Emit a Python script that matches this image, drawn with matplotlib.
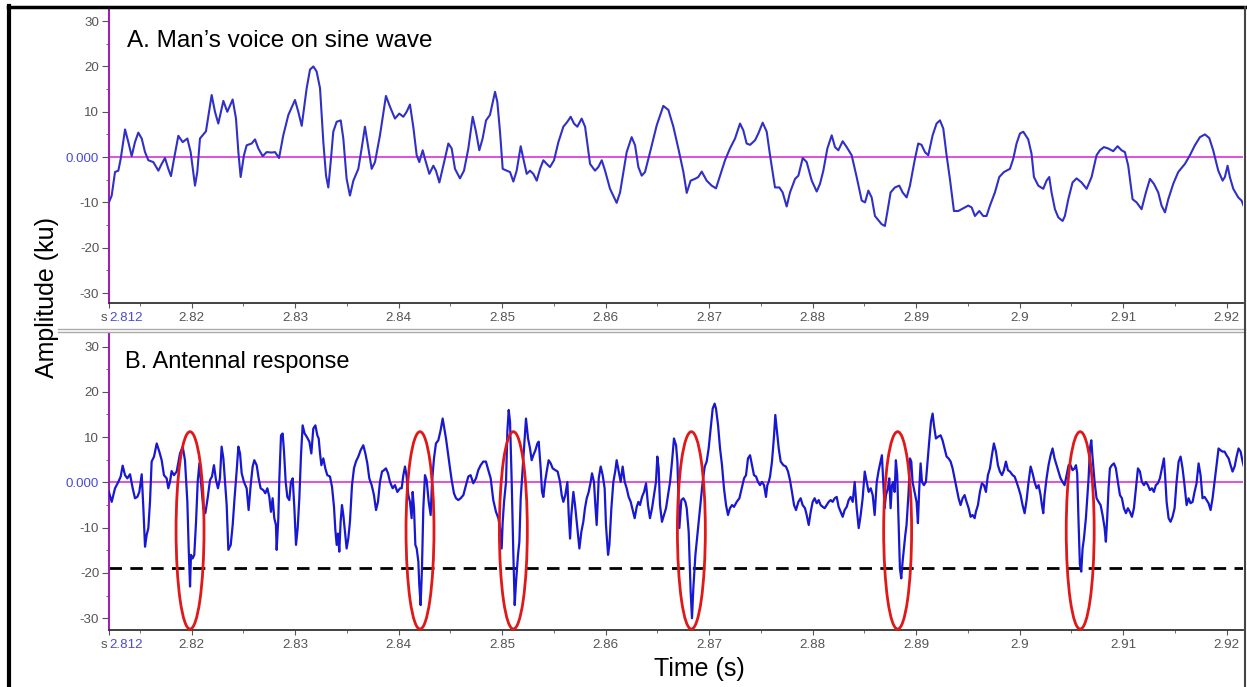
import numpy as np
import matplotlib
matplotlib.use("Agg")
import matplotlib.pyplot as plt
from matplotlib.patches import Ellipse
from matplotlib.lines import Line2D

plt.rcParams['font.family'] = ['Liberation Sans', 'DejaVu Sans']

# time offsets in ms after 2.812 s, amplitude in ku
t0 = 2.812

voice_ms = [0.00, 0.27, 0.59, 0.91, 1.14, 1.56, 1.88, 2.20, 2.52, 2.84, 3.17, 3.49, 3.81, 4.29,
            4.78, 5.10, 5.42, 5.74, 6.00, 6.29, 6.71, 7.13, 7.58, 7.90, 8.32, 8.54, 8.80, 9.38,
            9.93, 10.25, 10.57, 11.06, 11.44, 11.96, 12.28, 12.51, 12.73, 13.05, 13.31, 13.79,
            14.12, 14.44, 14.86, 15.24, 15.73, 16.05, 16.44, 16.85, 17.34, 17.98, 18.30, 18.63,
            19.11, 19.43, 19.75, 20.07, 20.40, 20.72, 20.98, 21.20, 21.43, 21.68, 22.01, 22.40,
            22.65, 22.97, 23.29, 23.62, 24.10, 24.42, 24.74, 25.07, 25.39, 25.71, 26.19, 26.77,
            27.16, 27.64, 28.06, 28.45, 28.77, 29.09, 29.41, 29.74, 29.99, 30.32, 30.54, 30.96,
            31.35, 31.60, 31.93, 32.31, 32.80, 33.12, 33.44, 33.92, 34.31, 34.73, 35.15, 35.47,
            35.79, 36.11, 36.44, 36.82, 37.31, 37.53, 37.79, 38.05, 38.44, 38.76, 39.08, 39.40,
            39.79, 40.05, 40.37, 40.69, 41.01, 41.34, 41.66, 41.98, 42.30, 42.62, 43.01, 43.43,
            43.91, 44.30, 44.62, 44.94, 45.26, 45.68, 46.01, 46.49, 46.97, 47.29, 47.62, 47.94,
            48.42, 49.06, 49.39, 50.03, 50.51, 50.84, 51.16, 51.48, 51.80, 52.29, 52.93, 53.57,
            54.06, 54.54, 55.02, 55.51, 55.83, 56.21, 56.63, 56.95, 57.28, 57.76, 58.24, 58.66,
            59.05, 59.53, 60.01, 60.50, 60.98, 61.30, 61.62, 61.95, 62.43, 62.75, 63.17, 63.56,
            63.88, 64.36, 64.78, 65.10, 65.49, 65.81, 66.30, 66.62, 67.04, 67.42, 67.91, 68.39,
            68.71, 69.03, 69.42, 69.84, 70.16, 70.48, 70.90, 71.29, 71.77, 72.25, 72.74, 73.06,
            73.38, 73.70, 74.02, 74.51, 74.66, 74.98, 75.21, 75.53, 75.95, 76.37, 76.69, 77.08,
            77.40, 77.88, 78.20, 78.52, 78.85, 79.17, 79.59, 79.97, 80.30, 80.62, 80.94, 81.26,
            81.65, 82.07, 82.55, 83.03, 83.36, 83.68, 84.10, 84.48, 84.80, 85.13, 85.61, 86.03,
            86.48, 87.06, 87.38, 87.70, 88.03, 88.35, 88.83, 89.15, 89.38, 89.80, 90.28, 90.60,
            90.86, 91.08, 91.41, 91.73, 92.15, 92.37, 92.70, 93.11, 93.50, 93.98, 94.47, 94.95,
            95.43, 95.75, 96.14, 96.56, 97.04, 97.46, 97.85, 98.17, 98.49, 98.91, 99.30, 99.78,
            100.20, 100.59, 100.97, 101.39, 101.71, 102.04, 102.36, 102.84, 103.32, 103.97,
            104.45, 104.93, 105.42, 105.90, 106.32, 106.70, 107.19, 107.61, 107.83, 108.09,
            108.31, 108.64, 109.12, 109.44, 109.76]
voice_ku = [-10.0, -8.5, -3.3, -3.0, -0.4, 6.1, 3.3, 0.2, 3.3, 5.4, 4.1, 1.1, -0.7, -1.1,
            -3.0, -1.5, -0.2, -2.6, -4.2, -0.4, 4.7, 3.3, 4.1, 1.1, -6.3, -3.3, 4.1, 5.7,
            13.7, 10.0, 7.4, 12.4, 10.0, 12.7, 8.5, 1.1, -4.4, 0.4, 2.6, 3.0,
            3.9, 1.9, 0.2, 1.1, 1.0, 1.1, -0.2, 4.8, 9.3, 12.6, 10.0, 6.9,
            15.2, 19.3, 20.0, 18.9, 15.2, 3.3, -4.1, -6.7, -1.1, 5.6, 7.8, 8.1,
            4.1, -4.8, -8.5, -5.2, -2.6, 1.9, 6.7, 1.9, -2.6, -1.1, 4.8, 13.5,
            11.1, 8.5, 9.6, 8.9, 10.0, 11.6, 6.7, 0.4, -1.1, 1.5, -0.4, -3.7,
            -1.9, -3.0, -5.6, -1.9, 3.0, 1.9, -2.6, -4.7, -3.0, 1.9, 8.9, 5.6,
            1.5, 4.1, 8.1, 9.3, 14.4, 12.2, 5.6, -2.6, -3.0, -3.3, -5.4, -3.0,
            2.4, -0.4, -3.7, -3.0, -3.7, -5.2, -2.6, -0.7, -1.5, -2.2, -0.7, 3.3,
            6.7, 7.8, 8.9, 7.4, 6.7, 8.5, 6.7, -1.5, -3.0, -2.2, -0.7, -3.0,
            -7.0, -10.1, -7.8, 1.1, 4.4, 2.6, -2.2, -4.1, -3.3, 1.1, 7.0, 11.3,
            10.4, 6.7, 1.9, -3.3, -7.9, -5.2, -4.8, -4.4, -3.2, -5.2, -6.3, -6.9,
            -4.1, -0.7, 1.9, 4.1, 7.4, 5.9, 3.0, 2.7, 3.7, 5.2, 7.6, 5.6,
            0.4, -6.7, -6.7, -7.8, -10.9, -7.8, -4.8, -4.1, -0.2, -1.1, -5.2, -7.6,
            -5.9, -3.0, 1.9, 4.8, 2.2, 1.5, 3.5, 2.2, 0.4, -4.4, -9.6, -10.0,
            -7.4, -8.9, -13.0, -14.4, -14.8, -15.2, -12.2, -7.8, -6.7, -6.3, -7.8, -8.9,
            -6.3, -0.4, 3.0, 2.7, 1.1, 0.4, 4.8, 7.4, 8.1, 6.3, 0.4, -4.8,
            -11.9, -11.9, -11.3, -10.7, -11.1, -13.0, -11.9, -13.0, -13.0, -10.7, -7.8, -4.4,
            -3.3, -2.6, -0.4, 3.0, 5.2, 5.6, 3.9, 0.7, -4.4, -6.3, -7.0, -5.2,
            -4.4, -7.8, -11.5, -13.3, -14.1, -13.0, -9.3, -5.6, -4.7, -5.6, -7.0, -4.4,
            0.4, 1.5, 2.2, 1.9, 1.3, 2.4, 1.5, 1.1, -1.9, -9.3, -10.0, -11.5,
            -7.8, -4.8, -5.9, -7.8, -10.7, -12.2, -9.3, -5.9, -3.3, -1.5,
            0.4, 2.6, 4.4, 5.0, 4.2, 1.5, -3.0, -5.2, -4.4, -1.9,
            -4.4, -7.0, -8.9, -9.6, -11.5]

response_ms = [0.00, 0.27, 0.59, 0.91, 1.14, 1.33, 1.56, 1.78, 2.04, 2.30, 2.52, 2.75, 2.94, 3.17,
               3.33, 3.49, 3.65, 3.81, 3.97, 4.13, 4.36, 4.62, 4.87, 5.10, 5.32, 5.58, 5.74, 5.90,
               6.06, 6.29, 6.55, 6.87, 7.13, 7.35, 7.58, 7.71, 7.84, 7.93, 8.09, 8.25, 8.42, 8.58,
               8.74, 8.90, 9.12, 9.32, 9.54, 9.77, 9.96, 10.15, 10.35, 10.54, 10.73, 10.89, 11.06,
               11.22, 11.38, 11.54, 11.77, 11.96, 12.15, 12.34, 12.51, 12.67, 12.83, 13.05, 13.31,
               13.50, 13.70, 13.89, 14.05, 14.28, 14.47, 14.66, 14.92, 15.11, 15.31, 15.50, 15.66,
               15.82, 15.98, 16.14, 16.21, 16.37, 16.47, 16.63, 16.79, 16.92, 17.08, 17.24, 17.43,
               17.59, 17.76, 17.92, 18.08, 18.24, 18.40, 18.56, 18.72, 18.91, 19.11, 19.37, 19.56,
               19.75, 19.95, 20.14, 20.27, 20.40, 20.53, 20.72, 20.91, 21.10, 21.36, 21.56, 21.75,
               21.88, 22.01, 22.14, 22.26, 22.39, 22.52, 22.65, 22.81, 22.97, 23.13, 23.29, 23.49,
               23.68, 23.87, 24.10, 24.32, 24.58, 24.78, 24.97, 25.16, 25.39, 25.61, 25.81, 26.00,
               26.19, 26.39, 26.58, 26.77, 26.97, 27.16, 27.42, 27.64, 27.87, 28.13, 28.29, 28.45,
               28.61, 28.77, 28.93, 29.09, 29.25, 29.35, 29.48, 29.61, 29.74, 29.90, 29.99, 30.12,
               30.25, 30.38, 30.54, 30.70, 30.90, 31.09, 31.22, 31.41, 31.60, 31.83, 32.05, 32.25,
               32.41, 32.57, 32.80, 32.96, 33.12, 33.34, 33.54, 33.76, 33.99, 34.25, 34.50, 34.73,
               34.95, 35.21, 35.47, 35.69, 35.92, 36.17, 36.43, 36.66, 36.89, 37.14, 37.40, 37.63,
               37.79, 37.95, 38.05, 38.18, 38.37, 38.50, 38.63, 38.76, 38.92, 39.08, 39.21, 39.34,
               39.53, 39.66, 39.79, 39.92, 40.11, 40.30, 40.50, 40.69, 40.85, 41.01, 41.21, 41.40,
               41.53, 41.72, 41.85, 41.98, 42.14, 42.30, 42.49, 42.69, 42.88, 43.14, 43.36, 43.59,
               43.75, 43.91, 44.10, 44.30, 44.43, 44.56, 44.68, 44.88, 45.04, 45.26, 45.46, 45.65,
               45.84, 46.00, 46.17, 46.36, 46.55, 46.68, 46.87, 47.00, 47.13, 47.33, 47.52, 47.71,
               47.90, 48.03, 48.23, 48.36, 48.55, 48.74, 48.94, 49.06, 49.26, 49.45, 49.64, 49.84,
               50.03, 50.22, 50.42, 50.61, 50.80, 51.00, 51.16, 51.32, 51.51, 51.71, 51.90, 52.09,
               52.28, 52.48, 52.67, 52.86, 52.99, 53.12, 53.25, 53.44, 53.64, 53.83, 54.02, 54.22,
               54.41, 54.60, 54.80, 54.93, 55.12, 55.31, 55.51, 55.70, 55.83, 56.02, 56.21, 56.34,
               56.47, 56.67, 56.86, 56.99, 57.18, 57.37, 57.57, 57.76, 57.95, 58.15, 58.34, 58.53,
               58.66, 58.86, 59.05, 59.24, 59.43, 59.63, 59.82, 60.01, 60.21, 60.40, 60.66, 60.92,
               61.14, 61.37, 61.56, 61.75, 61.95, 62.14, 62.33, 62.53, 62.72, 62.91, 63.11, 63.30,
               63.49, 63.62, 63.75, 63.88, 64.07, 64.27, 64.39, 64.52, 64.72, 64.91, 65.17, 65.42,
               65.62, 65.81, 66.00, 66.20, 66.39, 66.62, 66.84, 67.03, 67.26, 67.42, 67.62, 67.81,
               68.00, 68.19, 68.39, 68.58, 68.77, 68.97, 69.16, 69.35, 69.55, 69.74, 69.93, 70.13,
               70.32, 70.51, 70.71, 70.90, 71.09, 71.29, 71.48, 71.67, 71.87, 72.06, 72.25, 72.45,
               72.64, 72.83, 73.03, 73.22, 73.41, 73.61, 73.80, 73.99, 74.19, 74.38, 74.69, 74.82,
               74.95, 75.08, 75.27, 75.40, 75.53, 75.66, 75.79, 75.92, 76.04, 76.17, 76.30, 76.43,
               76.56, 76.69, 76.82, 76.95, 77.07, 77.27, 77.40, 77.53, 77.65, 77.85, 78.04, 78.17,
               78.30, 78.43, 78.56, 78.75, 78.94, 79.07, 79.26, 79.43, 79.59, 79.72, 79.91, 80.13,
               80.36, 80.55, 80.75, 80.94, 81.13, 81.33, 81.52, 81.71, 81.91, 82.10, 82.29, 82.49,
               82.68, 82.87, 83.07, 83.26, 83.45, 83.65, 83.77, 83.97, 84.16, 84.35, 84.55, 84.74,
               84.93, 85.13, 85.32, 85.51, 85.71, 85.90, 86.09, 86.29, 86.48, 86.67, 86.87, 87.06,
               87.32, 87.51, 87.70, 87.90, 88.09, 88.28, 88.48, 88.67, 88.86, 89.06, 89.25, 89.44,
               89.64, 89.83, 90.02, 90.15, 90.28, 90.41, 90.60, 90.79, 90.99, 91.18, 91.37, 91.57,
               91.76, 91.95, 92.15, 92.34, 92.53, 92.73, 92.92, 93.11, 93.31, 93.44, 93.56, 93.69,
               93.82, 93.95, 94.08, 94.21, 94.40, 94.53, 94.66, 94.79, 94.92, 95.05, 95.24, 95.43,
               95.63, 95.82, 96.01, 96.21, 96.33, 96.46, 96.59, 96.72, 96.91, 97.11, 97.30, 97.49,
               97.69, 97.88, 98.07, 98.27, 98.46, 98.65, 98.85, 99.04, 99.23, 99.43, 99.62, 99.81,
               100.01, 100.20, 100.39, 100.59, 100.78, 100.97, 101.16, 101.36, 101.55, 101.74,
               101.94, 102.07, 102.20, 102.39, 102.58, 102.77, 102.97, 103.16, 103.36, 103.55,
               103.74, 103.93, 104.13, 104.32, 104.51, 104.71, 104.90, 105.09, 105.29, 105.48,
               105.67, 105.87, 106.06, 106.25, 106.45, 106.64, 106.83, 107.03, 107.22, 107.41,
               107.61, 107.80, 107.99, 108.19, 108.38, 108.57, 108.77, 108.96, 109.15, 109.35,
               109.54, 109.76]
response_ku = [-2.1, -4.3, -1.3, 0.1, 1.3, 3.7, 1.6, 0.9, 1.8, -1.3, -3.5, -3.2, -2.1, 1.8,
               -5.7, -14.2, -11.6, -10.1, -4.3, 4.6, 5.7, 8.6, 6.8, 4.9, 1.6, 0.9, -1.3, 0.1,
               2.5, 1.6, 2.4, 6.4, 7.9, 4.9, -4.3, -14.6, -23.0, -16.0, -16.8, -16.0, -8.7, 0.1,
               4.2, 0.1, -5.7, -6.8, -3.5, 0.5, 1.3, 3.8, 0.5, -1.3, 0.9, 7.9, 5.3,
               0.1, -5.0, -14.9, -13.8, -9.4, -3.2, 2.4, 7.9, 6.4, 2.0, 0.1, -1.3,
               -6.1, -0.6, 3.5, 4.9, 3.8, 0.9, -1.3, -1.7, -2.4, -1.3, -3.2, -6.5,
               -3.5, -7.9, -9.4, -14.9, -7.9, 0.9, 10.4, 10.8, 6.8, 0.1, -3.2, -3.9,
               0.1, 0.9, -5.7, -13.8, -10.1, -3.5, 6.0, 12.6, 10.8, 10.1, 9.0, 6.4,
               11.9, 12.6, 10.4, 9.7, 6.4, 3.8, 5.3, 3.1, 1.6, 1.3, -1.0, -5.4,
               -10.5, -13.8, -11.3, -15.3, -8.7, -5.0, -7.2, -10.9, -14.6, -12.4, -8.7, -0.6,
               3.1, 4.6, 5.7, 7.1, 8.2, 6.4, 4.2, 0.9, -0.6, -2.8, -6.1, -4.3,
               0.1, 2.4, 2.7, 3.1, 2.0, 0.1, -1.3, -0.6, -2.1, -1.3, -1.3, 1.6,
               3.5, 1.3, -2.8, -4.3, -7.9, -2.1, -5.7, -13.8, -14.6, -17.5, -22.6, -27.1,
               -19.0, -5.7, 1.6, 0.5, -4.3, -7.2, 0.1, 5.3, 8.6, 9.3, 11.5, 14.1,
               11.9, 9.7, 5.7, 3.1, 0.5, -2.4, -3.5, -3.9, -3.5, -2.8, -0.6, 1.3,
               1.6, -0.2, 0.9, 2.7, 3.8, 4.6, 4.6, 2.7, 0.9, -3.9, -6.5, -7.9,
               -10.1, -14.6, -8.7, -4.3, 0.1, 11.2, 16.0, 13.4, 0.1, -16.0, -27.1, -21.9,
               -16.0, -13.1, -3.5, 0.9, 7.5, 14.1, 9.7, 7.5, 4.9, 6.0, 7.1, 8.6,
               9.0, 3.1, -2.1, -3.2, 0.1, 2.4, 4.9, 4.2, 3.1, 2.7, 2.4, 0.1,
               -2.8, -4.3, -2.8, 0.1, -7.2, -12.4, -7.2, -2.1, -5.0, -10.1, -14.6, -10.9,
               -8.7, -5.7, -3.5, -2.1, 0.1, 2.0, 0.1, -5.0, -9.4, 0.9, 3.5, 1.6,
               -1.3, -9.4, -16.0, -13.8, -5.7, 0.1, 2.7, 4.9, 2.4, 0.1, 3.5, 0.1,
               -1.3, -3.2, -4.3, -6.1, -7.9, -5.4, -4.3, -5.0, -3.2, -2.1, -0.2, -5.0,
               -7.9, -5.7, -2.8, 0.1, 5.7, 3.1, -5.0, -8.7, -7.2, -5.7, -2.8, 0.1,
               4.6, 9.7, 8.2, 4.6, -10.1, -3.9, -3.5, -4.3, -5.7, -10.9, -24.1, -30.0,
               -23.4, -16.0, -11.6, -8.7, -4.3, 0.1, 3.5, 4.6, 7.5, 11.9, 16.3, 17.4,
               16.3, 12.6, 7.5, 3.8, -1.3, -5.0, -7.2, -5.7, -5.0, -5.4, -4.3, -3.5,
               -1.3, 0.9, 1.6, 5.3, 6.0, 3.8, 1.6, 1.3, 0.1, -0.6, 0.1, -0.6,
               -3.2, -0.6, 0.1, 1.3, 4.6, 10.4, 14.9, 11.9, 7.5, 4.6, 3.8, 3.5,
               2.4, 0.5, -2.1, -5.0, -6.1, -4.3, -3.5, -5.0, -5.7, -7.2, -9.4, -6.5,
               -4.3, -3.5, -4.6, -3.9, -5.0, -5.4, -5.7, -5.0, -4.3, -3.9, -4.3, -3.5,
               -3.2, -5.4, -6.5, -7.6, -6.1, -5.4, -3.9, -3.2, -4.3, 0.1, -5.7, -10.1,
               -7.2, -3.5, 2.4, 0.1, -2.1, -1.3, -2.8, -7.2, 0.1, 2.7, 6.0, 0.1,
               -5.7, -2.8, -1.3, 0.9, -5.7, -0.6, 0.1, -2.1, 4.9, 1.6, -8.7, -19.0,
               -21.2, -17.5, -14.6, -11.6, -9.4, -2.1, 5.3, 4.6, 0.1, -2.1, -4.3, -9.0,
               -1.3, 4.2, 0.1, -0.6, 0.1, 3.8, 9.0, 13.4, 15.2, 12.6, 9.7, 10.1,
               10.4, 9.3, 7.5, 5.7, 5.3, 4.6, 3.1, 0.9, -1.3, -3.5, -5.0, -3.5,
               -2.8, -4.3, -5.7, -7.6, -7.2, -7.9, -6.5, -5.0, -2.1, -0.2, -0.6, -2.1,
               1.6, 3.1, 6.0, 8.6, 6.8, 3.8, 2.4, 1.6, 2.7, 4.6, 2.7, 2.4,
               1.6, 1.3, 0.1, -1.3, -2.8, -5.0, -6.8, -3.9, 0.1, 3.5, 2.0, 0.1,
               -1.3, -0.6, -2.8, -5.0, -6.8, -2.8, 0.9, 3.8, 6.0, 7.5, 5.3, 3.8,
               2.4, 0.9, 0.1, -0.6, 1.6, 3.8, 3.8, 2.7, 3.1, 3.8, 2.0, -8.7,
               -18.2, -19.7, -14.6, -12.4, -7.9, -3.5, 0.9, 7.5, 9.3, 5.3, 0.1, -3.5,
               -4.3, -5.0, -7.2, -10.1, -13.1, -7.9, -1.3, 3.1, 3.8, 4.2, 3.1, 0.1,
               -2.8, -3.5, -5.7, -6.8, -5.7, -6.5, -7.6, -5.7, -1.3, 3.1, 2.4, 0.1,
               -0.6, 0.1, -0.6, -1.7, -1.3, -2.1, -0.6, -0.2, 0.9, 3.1,
               5.3, 0.9, -4.3, -7.9, -8.7, -7.6, -5.7, 0.1, 4.6, 5.7,
               3.1, -0.6, -5.0, -3.5, -4.6, -4.3, -2.1, -0.2, 4.2, 1.6,
               -3.5, -3.2, -3.9, -4.6, -6.1, -3.5, 0.1, 3.8, 7.5, 7.1,
               6.8, 6.8, 6.0, 5.3, 3.8, 2.4, 3.5, 5.7, 7.5, 6.8,
               4.6, 2.7]

# circled spikes (ms after 2.812 s) and the threshold
spike_ms = [7.84, 30.06, 39.08, 56.28, 76.21, 93.85]
spike_width_ms = 2.7
ellipse_top, ellipse_bottom = 11.2, -32.4
threshold_ku = -19.0

major_x = [2.82, 2.83, 2.84, 2.85, 2.86, 2.87, 2.88, 2.89, 2.90, 2.91, 2.92]
major_x_labels = ['2.82', '2.83', '2.84', '2.85', '2.86', '2.87', '2.88', '2.89', '2.9', '2.91', '2.92']
major_y = [-30, -20, -10, 0, 10, 20, 30]
major_y_labels = ['-30', '-20', '-10', '0.000', '10', '20', '30']

W, H = 1247, 687
fig = plt.figure(figsize=(W / 100, H / 100), dpi=100)

grey = '#555555'
zero_blue = '#4a4ad8'
tick_fs = 9.6


def style_axis(ax, ylim):
    ax.set_xlim(t0, 2.92158)
    ax.set_ylim(*ylim)
    ax.axhline(0, color='#e050e0', lw=1.4, zorder=1)
    for s in ['top', 'right']:
        ax.spines[s].set_visible(False)
    ax.spines['left'].set_color('#a020b0')
    ax.spines['left'].set_linewidth(1.5)
    ax.spines['bottom'].set_color('#333333')
    ax.spines['bottom'].set_linewidth(1.3)
    ax.set_xticks([t0] + major_x)
    ax.set_xticklabels([''] + major_x_labels)
    ax.set_xticks(np.arange(2.815, 2.92, 0.01), minor=True)
    ax.set_yticks(major_y)
    ax.set_yticklabels(major_y_labels)
    ax.set_yticks([-25, -15, -5, 5, 15, 25], minor=True)
    ax.tick_params(axis='both', which='major', labelsize=tick_fs, colors=grey, labelcolor=grey)
    ax.tick_params(axis='x', which='major', length=3.5, pad=3)
    ax.tick_params(axis='y', which='major', length=5, pad=2)
    ax.tick_params(axis='both', which='minor', length=2.5, colors=grey)
    ax.get_yticklabels()[3].set_color(zero_blue)
    ax.annotate('2.812', xy=(t0, 0), xycoords=('data', 'axes fraction'), xytext=(0, -6.5),
                textcoords='offset points', ha='left', va='top', fontsize=tick_fs, color=zero_blue)
    ax.annotate('s', xy=(t0, 0), xycoords=('data', 'axes fraction'), xytext=(-1, -6.5),
                textcoords='offset points', ha='right', va='top', fontsize=tick_fs, color=grey)
    ax.set_facecolor('none')


# top panel: voice
ax1 = fig.add_axes([108.9 / W, 1 - 303 / H, (1243 - 108.9) / W, 295 / H])
style_axis(ax1, (-32.2, 32.9))
ax1.plot(t0 + np.array(voice_ms) / 1000, voice_ku, color='#3030c8', lw=1.5, zorder=3)

# bottom panel: antennal response
ax2 = fig.add_axes([108.9 / W, 1 - 630 / H, (1243 - 108.9) / W, 297 / H])
style_axis(ax2, (-32.6, 33.0))
ax2.plot(t0 + np.array(response_ms) / 1000, response_ku, color='#1818d0', lw=1.6, zorder=3)
ax2.axhline(threshold_ku, color='black', lw=2, ls=(0, (4.5, 3)), zorder=2)
for ms in spike_ms:
    e = Ellipse((t0 + ms / 1000, (ellipse_top + ellipse_bottom) / 2), spike_width_ms / 1000,
                ellipse_top - ellipse_bottom, fill=False, edgecolor='#e01818', lw=2, zorder=4,
                clip_on=False)
    ax2.add_patch(e)

# texts
fig.text(127 / W, 1 - 47 / H, 'A. Man\u2019s voice on sine wave', fontsize=17.5, va='baseline')
fig.text(125 / W, 1 - 368 / H, 'B. Antennal response', fontsize=17, va='baseline')
fig.text(47 / W, 1 - 297 / H, 'Amplitude (ku)', rotation=90, fontsize=18, ha='center', va='center')
fig.text(699 / W, 1 - 676 / H, 'Time (s)', fontsize=18, ha='center', va='baseline')

# separator between panels and outer frame
for yy in [328.5, 332]:
    fig.add_artist(Line2D([58 / W, 1245 / W], [1 - yy / H, 1 - yy / H], color='#aaaaaa', lw=1))
fig.add_artist(Line2D([9 / W, 9 / W], [0, 1 - 6 / H], color='black', lw=3))
fig.add_artist(Line2D([8 / W, 1245 / W], [1 - 7 / H, 1 - 7 / H], color='black', lw=2.5))
fig.add_artist(Line2D([1245 / W, 1245 / W], [0, 1 - 7 / H], color='#444444', lw=1.5))

fig.savefig('out.png', dpi=100)
